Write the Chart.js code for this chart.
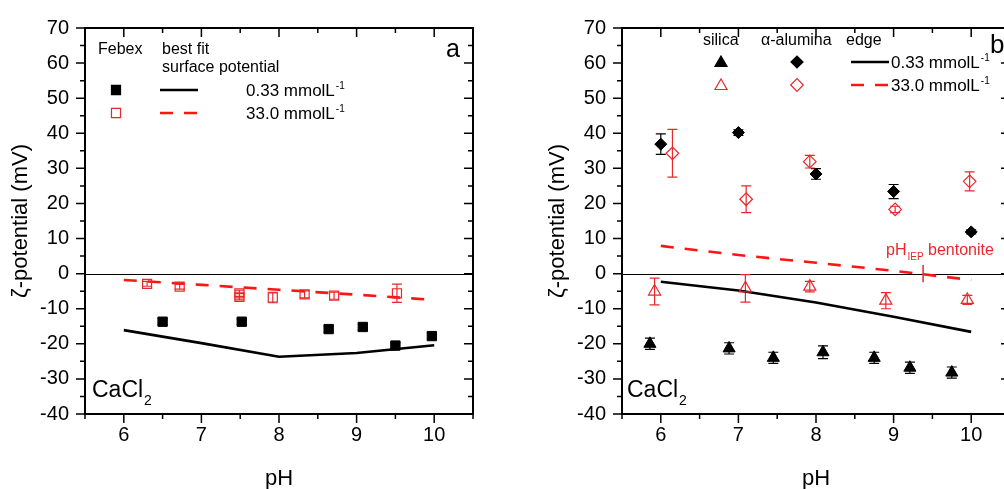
<!DOCTYPE html>
<html>
<head>
<meta charset="utf-8">
<script src="https://cdn.jsdelivr.net/npm/chart.js@4.4.1/dist/chart.umd.min.js"></script>
<style>
  html, body { margin: 0; padding: 0; background: #fff; overflow: hidden; }
  body { width: 1004px; height: 489px; position: relative; }
  .panel { position: absolute; top: 0; width: 500px; height: 489px; }
  #panel-a { left: 0; }
  #panel-b { left: 537px; }
</style>
</head>
<body>
<div id="panel-a" class="panel"><canvas id="chart-a" width="500" height="489"></canvas></div>
<div id="panel-b" class="panel"><canvas id="chart-b" width="500" height="489"></canvas></div>
<script>
const FONT = '"Liberation Sans", Arial, Helvetica, sans-serif';
const RED = '#e8282b'; // open symbols + error bars
const RED_LINE = '#ff1414'; // dashed fit line

// Axes (same for both panels)
const phRange = [5.5, 10.5];
const phMajor = [6, 7, 8, 9, 10];
const phMinor = [5.5, 6.5, 7.5, 8.5, 9.5, 10.5];
const zetaRange = [-40, 70];
const zetaMajor = [-40, -30, -20, -10, 0, 10, 20, 30, 40, 50, 60, 70];
const zetaMinor = [-35, -25, -15, -5, 5, 15, 25, 35, 45, 55, 65];

// Panel a: best fit surface potential
const fitPh = [6, 7, 8, 9, 10];
const fitFebex033 = [-16.1, -19.8, -23.7, -22.6, -20.4];
const fitFebex33 = [-1.8, -3.2, -4.6, -6.0, -7.5];

// Panel a: Febex measurements
const febexPh033 = [6.5, 7.52, 8.64, 9.08, 9.5, 9.97];
const febexZeta033 = [-13.7, -13.7, -15.8, -15.2, -20.5, -17.8];
const febexErr033 = [0.9, 0.8, 0.9, 0.9, 0.8, 0.9];
const febexPh33 = [6.3, 6.72, 7.49, 7.49, 7.92, 8.33, 8.71, 9.52];
const febexZeta33 = [-2.9, -3.7, -5.6, -6.6, -6.8, -5.9, -6.3, -5.6];
const febexErr33 = [0.7, 0.7, 0.9, 0.9, 1.5, 1.0, 1.0, 2.6];

// Panel b: edge best fit
const fitEdge033 = [-2.3, -4.8, -8.2, -12.3, -16.6];
const fitEdge33 = [7.9, 5.3, 3.1, 0.8, -1.8];

// Panel b: silica
const silicaPh033 = [5.86, 6.88, 7.45, 8.09, 8.75, 9.21, 9.75];
const silicaZeta033 = [-20.0, -21.3, -24.0, -22.4, -24.0, -26.8, -28.2];
const silicaErr033 = [1.6, 1.6, 1.6, 1.8, 1.6, 1.6, 1.6];
const silicaPh33 = [5.92, 7.09, 7.92, 8.9, 9.95];
const silicaZeta33 = [-5.1, -4.2, -3.7, -7.7, -7.5];
const silicaErr33 = [3.8, 3.9, 1.5, 2.3, 1.3];

// Panel b: alpha-alumina
const aluminaPh033 = [6.0, 7.0, 8.0, 9.0, 10.0];
const aluminaZeta033 = [36.9, 40.2, 28.4, 23.4, 11.9];
const aluminaErr033 = [2.9, 0.8, 1.5, 2.0, 0.6];
const aluminaPh33 = [6.15, 7.1, 7.92, 9.02, 9.98];
const aluminaZeta33 = [34.3, 21.2, 31.9, 18.3, 26.3];
const aluminaErr33 = [6.8, 3.8, 1.8, 0.9, 2.7];

// Panel b: isoelectric point of bentonite
const iepPh = [9.38];
const iepZeta = [0];

Chart.defaults.font.family = FONT;
Chart.defaults.color = '#000';

const points = (xs, ys) => xs.map((x, i) => ({ x, y: ys[i] }));

function fitLine(xs, ys, dashed) {
    return {
        data: points(xs, ys),
        showLine: true,
        pointRadius: 0,
        borderColor: dashed ? RED_LINE : '#000',
        borderWidth: 2.6,
        borderDash: dashed ? [13, 11] : [],
    };
}

function markers(xs, ys, errs, style, radius, open) {
    return {
        data: points(xs, ys),
        errors: errs,
        pointStyle: style,
        pointRadius: radius,
        backgroundColor: open ? 'rgba(0,0,0,0)' : '#000',
        borderColor: open ? RED : '#000',
        borderWidth: open ? 1.2 : 1,
    };
}

// small text helpers used by the legends
function text(ctx, str, x, y, size, color) {
    ctx.font = `${size}px ${FONT}`;
    ctx.fillStyle = color || '#000';
    ctx.textAlign = 'left';
    ctx.textBaseline = 'alphabetic';
    ctx.fillText(str, x, y);
    return ctx.measureText(str).width;
}

function unit(ctx, str, x, y, size) {
    const w = text(ctx, str, x, y, size);
    text(ctx, '-1', x + w + 1, y - size * 0.42, Math.round(size * 0.6));
}

function sample(ctx, x1, x2, y, dashed) {
    ctx.save();
    ctx.strokeStyle = dashed ? RED_LINE : '#000';
    ctx.lineWidth = 2.6;
    ctx.setLineDash(dashed ? [13, 11] : []);
    ctx.beginPath();
    ctx.moveTo(x1, y);
    ctx.lineTo(x2, y);
    ctx.stroke();
    ctx.restore();
}

function symbol(ctx, style, radius, x, y, open) {
    ctx.save();
    ctx.fillStyle = open ? 'rgba(0,0,0,0)' : '#000';
    ctx.strokeStyle = open ? RED : '#000';
    ctx.lineWidth = 1.2;
    Chart.helpers.drawPoint(ctx, { pointStyle: style, radius, rotation: 0, borderWidth: 1.2 }, x, y);
    ctx.restore();
}

function cacl2(ctx, x, y) {
    const w = text(ctx, 'CaCl', x, y, 23);
    text(ctx, '2', x + w + 1, y + 8, 14);
}

// Zero line, error bars, Origin-style frame with in/out ticks, and legend text.
function decorations(drawLegend) {
    return {
        id: 'decor',
        beforeDatasetsDraw(chart) {
            const { ctx, chartArea: area, scales: { x, y } } = chart;
            ctx.save();
            ctx.strokeStyle = '#000';
            ctx.lineWidth = 1.2;
            const y0 = Math.round(y.getPixelForValue(0)) + 0.5;
            ctx.beginPath();
            ctx.moveTo(area.left, y0);
            ctx.lineTo(area.right, y0);
            ctx.stroke();

            chart.data.datasets.forEach((ds) => {
                if (!ds.errors) return;
                ctx.strokeStyle = ds.borderColor;
                ctx.lineWidth = 1.2;
                ctx.beginPath();
                ds.data.forEach((p, i) => {
                    const px = x.getPixelForValue(p.x);
                    const top = y.getPixelForValue(p.y + ds.errors[i]);
                    const bot = y.getPixelForValue(p.y - ds.errors[i]);
                    ctx.moveTo(px, top);
                    ctx.lineTo(px, bot);
                    ctx.moveTo(px - 5, top);
                    ctx.lineTo(px + 5, top);
                    ctx.moveTo(px - 5, bot);
                    ctx.lineTo(px + 5, bot);
                });
                ctx.stroke();
            });
            ctx.restore();
        },
        afterDraw(chart) {
            const { ctx, chartArea: a, scales: { x, y } } = chart;
            ctx.save();
            ctx.strokeStyle = '#000';
            ctx.lineWidth = 1.5;
            ctx.beginPath();
            [[phMajor, 9], [phMinor, 5]].forEach(([vals, len]) => vals.forEach((v) => {
                const px = x.getPixelForValue(v);
                ctx.moveTo(px, a.bottom);
                ctx.lineTo(px, a.bottom + len); // outward
                ctx.moveTo(px, a.top);
                ctx.lineTo(px, a.top + len); // inward
            }));
            [[zetaMajor, 9], [zetaMinor, 5]].forEach(([vals, len]) => vals.forEach((v) => {
                const py = y.getPixelForValue(v);
                ctx.moveTo(a.left - len, py);
                ctx.lineTo(a.left, py);
                ctx.moveTo(a.right - len, py);
                ctx.lineTo(a.right, py);
            }));
            ctx.stroke();
            ctx.lineWidth = 2;
            ctx.strokeRect(a.left, a.top, a.right - a.left, a.bottom - a.top);
            drawLegend(ctx);
            ctx.restore();
        },
    };
}

function makePanel(id, datasets, drawLegend) {
    return new Chart(document.getElementById(id), {
        type: 'scatter',
        data: { datasets },
        options: {
            responsive: false,
            animation: false,
            events: [],
            layout: { padding: { top: 26, right: 27, left: 0, bottom: 0 } },
            plugins: { legend: { display: false }, tooltip: { enabled: false } },
            scales: {
                x: {
                    type: 'linear',
                    min: phRange[0],
                    max: phRange[1],
                    afterBuildTicks: (scale) => { scale.ticks = phMajor.map(v => ({ value: v })); },
                    afterFit: (scale) => { scale.height = 75; },
                    ticks: { color: '#000', font: { size: 20 }, padding: 9 },
                    grid: { display: false, drawTicks: false },
                    border: { display: false },
                    title: { display: true, text: 'pH', color: '#000', font: { size: 22 }, padding: { bottom: -3 } },
                },
                y: {
                    type: 'linear',
                    min: zetaRange[0],
                    max: zetaRange[1],
                    afterFit: (scale) => { scale.width = 85; },
                    ticks: { stepSize: 10, color: '#000', font: { size: 20 }, padding: 16 },
                    grid: { display: false, drawTicks: false },
                    border: { display: false },
                    title: { display: true, text: 'ζ-potential (mV)', color: '#000', font: { size: 22 }, padding: { top: 8 } },
                },
            },
        },
        plugins: [decorations(drawLegend)],
    });
}

makePanel('chart-a', [
    markers(febexPh033, febexZeta033, febexErr033, 'rect', 6.6, false),
    markers(febexPh33, febexZeta33, febexErr33, 'rect', 6.4, true),
    fitLine(fitPh, fitFebex33, true),
    fitLine(fitPh, fitFebex033, false),
], (ctx) => {
    text(ctx, 'Febex', 98, 54, 16);
    text(ctx, 'best fit', 162, 54, 16);
    text(ctx, 'surface potential', 162, 72, 16);
    symbol(ctx, 'rect', 6.4, 116, 90, false);
    sample(ctx, 160, 198, 90, false);
    unit(ctx, '0.33 mmolL', 246, 96, 17);
    symbol(ctx, 'rect', 6.4, 116, 113, true);
    sample(ctx, 160, 198, 113, true);
    unit(ctx, '33.0 mmolL', 246, 119, 17);
    text(ctx, 'a', 446, 57, 25);
    cacl2(ctx, 92, 397);
});

makePanel('chart-b', [
    markers(aluminaPh033, aluminaZeta033, aluminaErr033, 'rectRot', 6, false),
    markers(aluminaPh33, aluminaZeta33, aluminaErr33, 'rectRot', 6.3, true),
    markers(silicaPh033, silicaZeta033, silicaErr033, 'triangle', 7, false),
    markers(silicaPh33, silicaZeta33, silicaErr33, 'triangle', 7, true),
    {
        data: points(iepPh, iepZeta),
        pointStyle: 'line',
        pointRadius: 8.7,
        rotation: 90,
        borderColor: RED,
        borderWidth: 1.5,
    },
    fitLine(fitPh, fitEdge33, true),
    fitLine(fitPh, fitEdge033, false),
], (ctx) => {
    text(ctx, 'silica', 166, 45, 16);
    text(ctx, 'α-alumina', 224, 45, 16);
    text(ctx, 'edge', 309, 45, 16);
    symbol(ctx, 'triangle', 7, 184, 63, false);
    symbol(ctx, 'rectRot', 6, 260, 62, false);
    sample(ctx, 314, 352, 62, false);
    unit(ctx, '0.33 mmolL', 354, 68, 17);
    symbol(ctx, 'triangle', 7, 184, 86, true);
    symbol(ctx, 'rectRot', 6.3, 260, 85, true);
    sample(ctx, 314, 352, 85, true);
    unit(ctx, '33.0 mmolL', 354, 91, 17);
    text(ctx, 'b', 453, 53, 26);
    cacl2(ctx, 90, 397);
    // pH_IEP bentonite label
    const w = text(ctx, 'pH', 349, 255, 16, RED);
    const w2 = text(ctx, 'IEP', 349 + w + 1, 260, 10, RED);
    text(ctx, ' bentonite', 349 + w + w2 + 1, 255, 16, RED);
});
</script>
</body>
</html>
